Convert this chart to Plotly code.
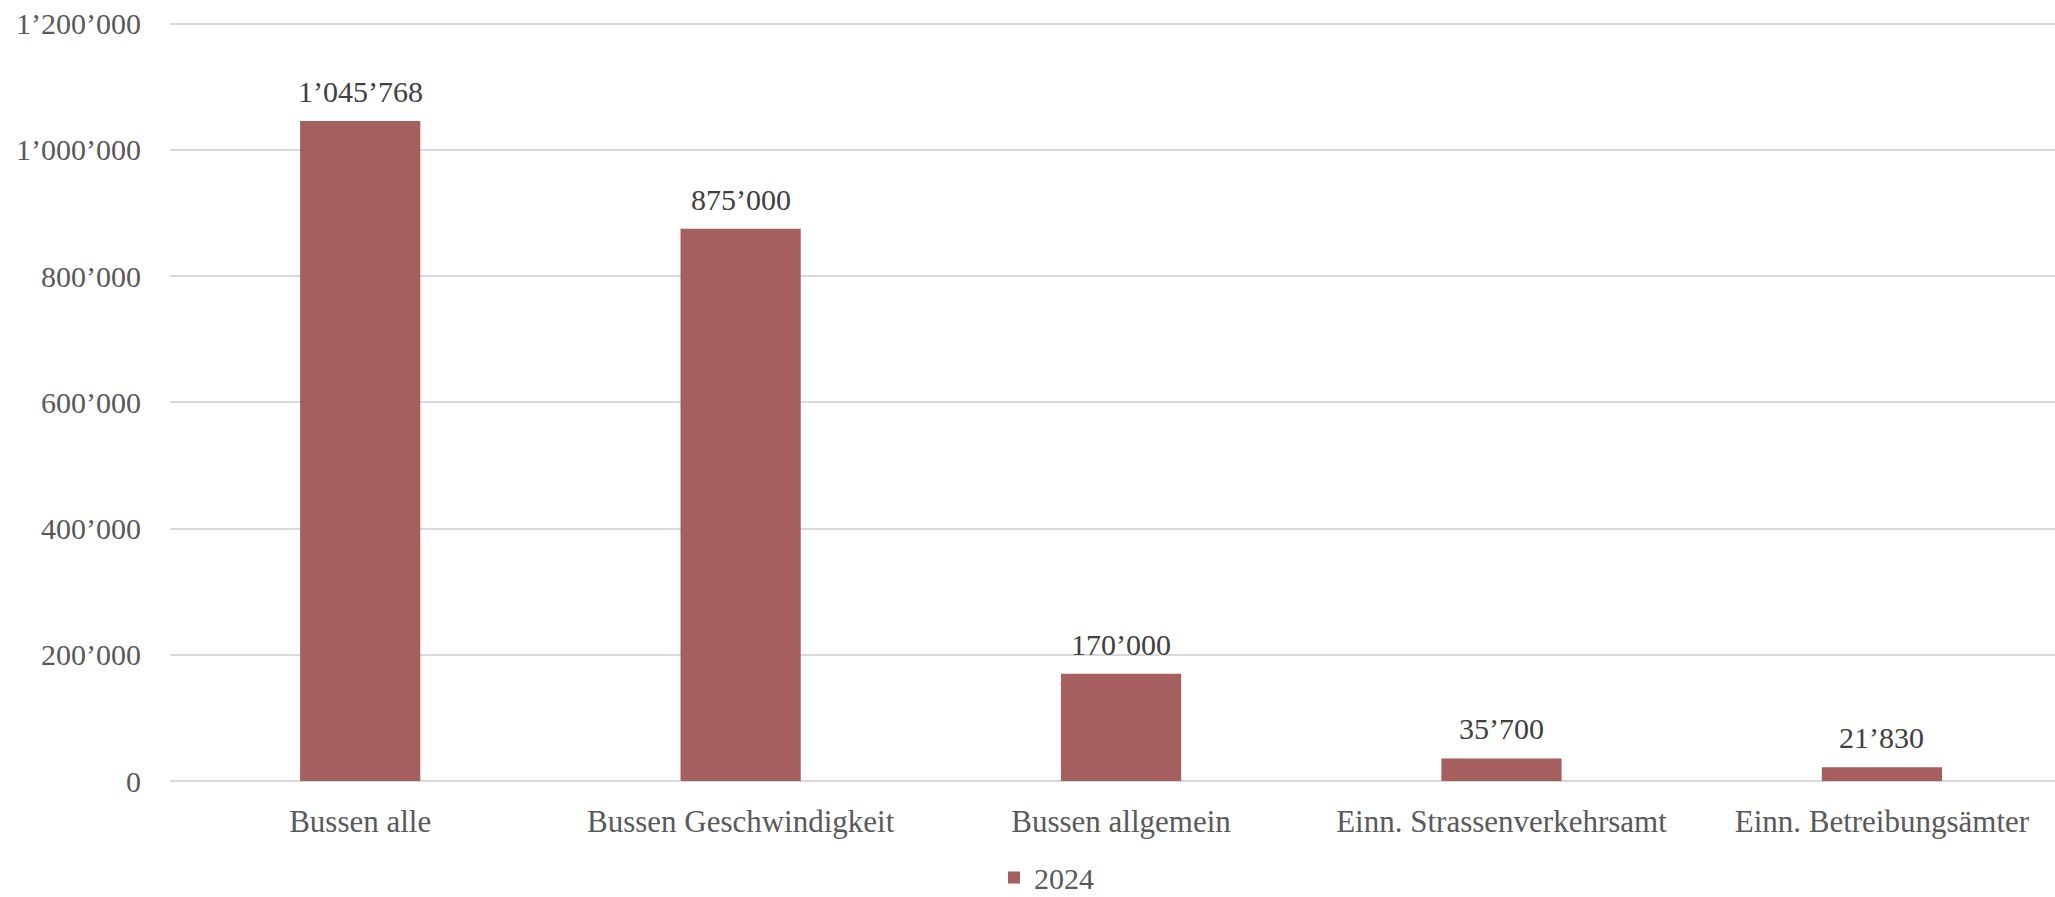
import plotly.graph_objects as go

categories = ["Bussen alle", "Bussen Geschwindigkeit", "Bussen allgemein",
              "Einn. Strassenverkehrsamt", "Einn. Betreibungsämter"]
values_2024 = [1045768, 875000, 170000, 35700, 21830]
series_name = "2024"
y_ticks = [0, 200000, 400000, 600000, 800000, 1000000, 1200000]

font_family = "Liberation Serif, DejaVu Serif, serif"

fig = go.Figure(
    data=[go.Bar(
        x=categories,
        y=values_2024,
        name=series_name,
        marker=dict(color="#A45F5E", line=dict(width=0)),
        width=0.316,
        showlegend=True,
    )]
)

# value labels above the bars
for cat, val in zip(categories, values_2024):
    fig.add_annotation(
        x=cat, y=val, text=f"{val:,}".replace(",", "’"),
        showarrow=False, yanchor="bottom", yshift=11,
        font=dict(size=30, color="#404040", family=font_family),
    )

fig.update_layout(
    autosize=True,
    paper_bgcolor="white", plot_bgcolor="white",
    separators=".’",
    # legend must not push the plot area
    margin=dict(l=170, r=0, t=22, b=116, autoexpand=False),
    font=dict(family=font_family, color="#595959"),
    legend=dict(orientation="h", x=0.465, xanchor="center", y=-0.127,
                yanchor="middle", font=dict(size=30, color="#595959"),
                itemwidth=30),
    bargap=0.684,
)
fig.update_yaxes(
    range=[0, 1202500], tickvals=y_ticks, tickformat=",d",
    showgrid=True, gridcolor="#d9d9d9", gridwidth=1.5,
    zeroline=True, zerolinecolor="#d9d9d9", zerolinewidth=1.5,
    tickfont=dict(size=30, color="#595959"), ticks="", ticklabelstandoff=28,
    automargin=False,
)
# the original chart runs past the right edge of the image
fig.update_xaxes(
    range=[-0.5, 4.455],
    tickfont=dict(size=31, color="#595959"), ticks="", showline=False,
    ticklabelstandoff=19, automargin=False,
)

# pin the figure to the window corner, no page margin / scrollbars
pin = ("var d=document.getElementById('{plot_id}');"
       "d.style.position='fixed';d.style.left='0';d.style.top='0';"
       "document.body.style.margin='0';"
       "document.documentElement.style.overflow='hidden';")
fig.write_html("out.html", config={"displayModeBar": False}, post_script=pin,
               default_width="100vw", default_height="100vh")
